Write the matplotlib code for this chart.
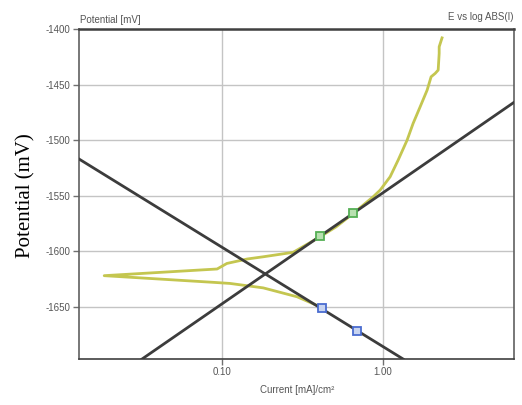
import matplotlib
matplotlib.use("Agg")
import matplotlib.pyplot as plt
from matplotlib.ticker import FixedLocator, NullLocator

plt.rcParams["axes.unicode_minus"] = False

# polarization scan, cathodic end -> Ecorr -> anodic end
scan_I = [0.406, 0.292, 0.180, 0.112, 0.088, 0.0185,
          0.093, 0.107, 0.143, 0.180, 0.276, 0.406, 0.511, 0.652, 0.867,
          0.958, 1.105, 1.239, 1.409, 1.535, 1.698, 1.876, 1.986, 2.104,
          2.197, 2.229, 2.229, 2.322]
scan_E = [-1650, -1641, -1633, -1629, -1628, -1622,
          -1616, -1611, -1607, -1605, -1601, -1587, -1578, -1566, -1551,
          -1545, -1533, -1518, -1500, -1485, -1470, -1455, -1443, -1440,
          -1437, -1422, -1416, -1408]

# tafel fits
cath_I = [0.0129, 1.33]
cath_E = [-1517, -1697]
anod_I = [0.0318, 6.5]
anod_E = [-1697, -1466]

# fit points
anod_pts_I = [0.406, 0.652]
anod_pts_E = [-1586, -1566]
cath_pts_I = [0.418, 0.690]
cath_pts_E = [-1651, -1672]

yticks = [-1650, -1600, -1550, -1500, -1450, -1400]
xticks = [0.1, 1.0]
xticklabels = ["0.10", "1.00"]

narrow = ["Liberation Sans Narrow", "Liberation Sans", "DejaVu Sans"]

fig = plt.figure(figsize=(5.22, 4.05), dpi=100)
ax = fig.add_axes([79/522, 1-359/405, (514-79)/522, (359-29)/405])

ax.set_xscale("log")
ax.set_xlim(0.0129, 6.5)
ax.set_ylim(-1697, -1400)

ax.plot(scan_I, scan_E, color="#c4c650", lw=2, zorder=3)
ax.plot(cath_I, cath_E, color="#3c3c3c", lw=2, zorder=4)
ax.plot(anod_I, anod_E, color="#3c3c3c", lw=2, zorder=4)
ax.plot(anod_pts_I, anod_pts_E, ls="none", marker="s", ms=6,
        mfc="#b8e0b0", mec="#55b055", mew=1.3, zorder=5)
ax.plot(cath_pts_I, cath_pts_E, ls="none", marker="s", ms=6,
        mfc="#c8d4f0", mec="#4a6cd0", mew=1.3, zorder=5)

ax.xaxis.set_major_locator(FixedLocator(xticks))
ax.xaxis.set_minor_locator(NullLocator())
ax.set_xticklabels(xticklabels)
ax.set_yticks(yticks)
ax.grid(True, color="#c4c4c4", lw=1)
ax.set_axisbelow(True)

for s in ax.spines.values():
    s.set_color("#606060")
    s.set_linewidth(1.2)
ax.spines["top"].set_color("#404040")
ax.spines["top"].set_linewidth(1.8)
ax.spines["bottom"].set_color("#404040")

ax.tick_params(length=4, width=1, color="#707070", labelcolor="#555555",
               labelsize=7, pad=2)
for lab in ax.get_xticklabels() + ax.get_yticklabels():
    lab.set_family(narrow)

fig.text(80/522, 1-20/405, "Potential [mV]", fontsize=7, color="#555555",
         family=narrow, va="center", ha="left")
fig.text(514/522, 1-17/405, "E vs log ABS(I)", fontsize=7, color="#555555",
         family=narrow, va="center", ha="right")
fig.text(297/522, 1-390/405, "Current [mA]/cm²", fontsize=7, color="#555555",
         family=narrow, va="center", ha="center")
fig.text(26/522, 1-196/405, "Potential (mV)", fontsize=15, color="black",
         family=["Liberation Serif", "DejaVu Serif"], rotation=90,
         va="center", ha="center")

fig.savefig("out.png", dpi=100)
